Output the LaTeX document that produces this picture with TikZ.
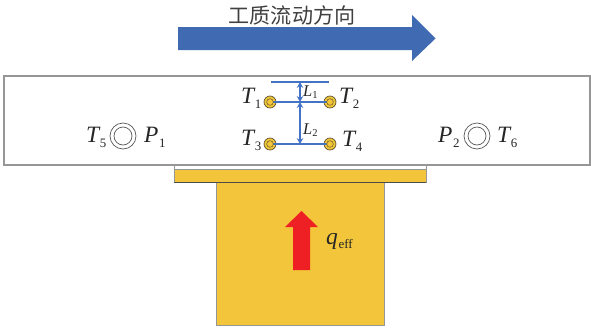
\documentclass[tikz,border=0pt]{standalone}
\usepackage{fontspec}
\setmainfont{Liberation Serif}
\newfontfamily\cjkfont{Noto Sans CJK SC}
\usetikzlibrary{arrows.meta, positioning}
\definecolor{platecolor}{RGB}{242, 197, 58}
\definecolor{flowcolor}{RGB}{64, 106, 178}
\definecolor{dimcolor}{RGB}{68, 114, 196}
\definecolor{heatcolor}{RGB}{238, 32, 36}
\definecolor{edgecolor}{RGB}{150, 150, 150}
\definecolor{ringcolor}{RGB}{95, 85, 45}
\tikzset{
  wall/.style={draw=edgecolor, line width=0.7pt, fill=platecolor},
  sensorout/.style={circle, minimum size=0.36cm, inner sep=0pt,
    draw=ringcolor, line width=0.6pt, fill=platecolor},
  sensorin/.style={circle, minimum size=0.2cm, inner sep=0pt,
    draw=ringcolor, line width=0.4pt, fill=platecolor},
  portout/.style={circle, minimum size=0.78cm, inner sep=0pt,
    draw=black!65, line width=0.6pt},
  portin/.style={circle, minimum size=0.54cm, inner sep=0pt,
    draw=black!65, line width=0.6pt},
  biglab/.style={anchor=base west, inner sep=0pt, text=black!85},
  dimline/.style={draw=dimcolor, line width=0.9pt},
  dimarr/.style={draw=dimcolor, line width=0.9pt,
    {Stealth[length=5pt,width=5.5pt]}-{Stealth[length=5pt,width=5.5pt]}}
}
\newcommand{\biglabel}[2]{{\fontsize{20}{20}\selectfont\itshape #1}%
  \kern0.5pt\raisebox{-5pt}{\fontsize{11}{11}\selectfont #2}}
\newcommand{\smalllabel}[2]{{\fontsize{14}{14}\selectfont\itshape #1}%
  \raisebox{-2.5pt}{\fontsize{9}{9}\selectfont #2}}
\begin{document}
\begin{tikzpicture}[x=0.03cm, y=-0.03cm]
  \useasboundingbox (0,0) rectangle (591,329);

  % ── Flow direction ─────────────────────────────────────────────
  \fill[flowcolor] (178,27) -- (412,27) -- (412,15) -- (435.5,38.5)
    -- (412,61) -- (412,50) -- (178,50) -- cycle;
  \node[font=\cjkfont\fontsize{18}{18}\selectfont, text=black!75, inner sep=0pt] (title)
    at (292,15) {工质流动方向};

  % ── Channel and heater ─────────────────────────────────────────
  \draw[draw=edgecolor, line width=0.9pt] (4,76) rectangle (590,165);
  \draw[draw=edgecolor, line width=0.7pt] (174,165) -- (174,169) (426,165) -- (426,169);
  \draw[wall] (174,169) rectangle (426,182);
  \draw[wall] (216,182) rectangle (384,325);
  \draw[black!70, line width=0.5pt] (174,182) -- (426,182);

  % ── Heat flux ──────────────────────────────────────────────────
  \fill[heatcolor] (293,270) -- (293,227) -- (285,227) -- (301.5,211)
    -- (318,227) -- (310,227) -- (310,270) -- cycle;
  \node[biglab] (qeff) at (326,244) {\fontsize{20}{20}\selectfont\itshape q%
    \kern0.5pt\raisebox{-4pt}{\fontsize{11}{11}\selectfont\upshape eff}};

  % ── Side ports ─────────────────────────────────────────────────
  \node[portout] (port1) at (123,136) {};
  \node[portin] (port1in) at (123,136) {};
  \node[portout] (port2) at (477,136) {};
  \node[portin] (port2in) at (477,136) {};
  \node[biglab] (t5) at (86,142) {\biglabel{T}{5}};
  \node[biglab] (p1) at (144,142) {\biglabel{P}{1}};
  \node[biglab] (p2) at (438,142) {\biglabel{P}{2}};
  \node[biglab] (t6) at (497,142) {\biglabel{T}{6}};

  % ── Thermocouples ──────────────────────────────────────────────
  \node[sensorout] (s1) at (270,102) {};
  \node[sensorout] (s2) at (330,102) {};
  \node[sensorout] (s3) at (270,144) {};
  \node[sensorout] (s4) at (330,144) {};
  \node[biglab] (t1) at (241,103) {\biglabel{T}{1}};
  \node[biglab] (t2) at (339,103) {\biglabel{T}{2}};
  \node[biglab] (t3) at (241,145) {\biglabel{T}{3}};
  \node[biglab] (t4) at (342,146) {\biglabel{T}{4}};

  % ── Dimension lines ────────────────────────────────────────────
  \coordinate (topl) at (271,82);
  \coordinate (topr) at (329,82);
  \coordinate (mid1) at (300,82);
  \coordinate (mid2) at (300,102);
  \coordinate (mid3) at (300,144);
  \draw[dimline] (topl) -- (topr);
  \draw[dimline] (s1.center) -- (s2.center);
  \draw[dimline] (s3.center) -- (s4.center);
  \draw[dimarr] (mid1) -- (mid2);
  \draw[dimarr] (mid2) -- (mid3);
  \node[sensorin] (s1in) at (s1) {};
  \node[sensorin] (s2in) at (s2) {};
  \node[sensorin] (s3in) at (s3) {};
  \node[sensorin] (s4in) at (s4) {};
  \node[biglab] (l1) at (303,96) {\smalllabel{L}{1}};
  \node[biglab] (l2) at (303,134) {\smalllabel{L}{2}};

\end{tikzpicture}
\end{document}
